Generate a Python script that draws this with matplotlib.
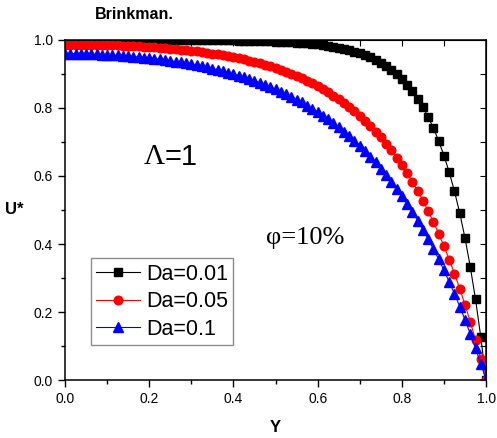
import matplotlib
matplotlib.use("Agg")
import matplotlib.pyplot as plt
from matplotlib.ticker import MultipleLocator

plt.rcParams['font.family'] = ['Liberation Sans', 'DejaVu Sans']

# Y positions of the markers (step 0.0125)
y_pos = [
    0.0, 0.0125, 0.025, 0.0375, 0.05, 0.0625, 0.075, 0.0875, 0.1, 0.1125,
    0.125, 0.1375, 0.15, 0.1625, 0.175, 0.1875, 0.2, 0.2125, 0.225, 0.2375,
    0.25, 0.2625, 0.275, 0.2875, 0.3, 0.3125, 0.325, 0.3375, 0.35, 0.3625,
    0.375, 0.3875, 0.4, 0.4125, 0.425, 0.4375, 0.45, 0.4625, 0.475, 0.4875,
    0.5, 0.5125, 0.525, 0.5375, 0.55, 0.5625, 0.575, 0.5875, 0.6, 0.6125,
    0.625, 0.6375, 0.65, 0.6625, 0.675, 0.6875, 0.7, 0.7125, 0.725, 0.7375,
    0.75, 0.7625, 0.775, 0.7875, 0.8, 0.8125, 0.825, 0.8375, 0.85, 0.8625,
    0.875, 0.8875, 0.9, 0.9125, 0.925, 0.9375, 0.95, 0.9625, 0.975, 0.9875,
    1.0,
]

u_da001 = [
    1.000, 1.000, 1.000, 1.000, 1.000, 1.000, 1.000, 1.000, 1.000, 1.000,
    1.000, 1.000, 1.000, 1.000, 1.000, 1.000, 1.000, 1.000, 1.000, 1.000,
    0.999, 0.999, 0.999, 0.999, 0.999, 0.999, 0.999, 0.999, 0.999, 0.999,
    0.999, 0.999, 0.999, 0.998, 0.998, 0.998, 0.997, 0.997, 0.997, 0.996,
    0.995, 0.995, 0.994, 0.993, 0.992, 0.991, 0.990, 0.988, 0.987, 0.985,
    0.983, 0.980, 0.977, 0.974, 0.970, 0.966, 0.961, 0.955, 0.949, 0.941,
    0.933, 0.923, 0.912, 0.899, 0.885, 0.868, 0.849, 0.827, 0.802, 0.774,
    0.741, 0.703, 0.660, 0.611, 0.555, 0.491, 0.417, 0.333, 0.237, 0.126,
    0.0,
]

u_da005 = [
    0.9865, 0.9865, 0.9864, 0.9863, 0.9861, 0.9859, 0.9856, 0.9852, 0.9848, 0.9843,
    0.9838, 0.9832, 0.9826, 0.9818, 0.9810, 0.9802, 0.9792, 0.9782, 0.9771, 0.9759,
    0.9746, 0.9732, 0.9717, 0.9700, 0.9683, 0.9664, 0.9644, 0.9623, 0.9601, 0.9576,
    0.9550, 0.9523, 0.9493, 0.9461, 0.9428, 0.9392, 0.9354, 0.9313, 0.9269, 0.9223,
    0.9174, 0.9121, 0.9065, 0.9005, 0.8942, 0.8874, 0.8802, 0.8725, 0.8643, 0.8556,
    0.8464, 0.8365, 0.8260, 0.8148, 0.8029, 0.7902, 0.7767, 0.7623, 0.7470, 0.7307,
    0.7134, 0.6949, 0.6752, 0.6543, 0.6320, 0.6083, 0.5831, 0.5562, 0.5276, 0.4971,
    0.4647, 0.4302, 0.3934, 0.3543, 0.3127, 0.2684, 0.2212, 0.1709, 0.1175, 0.0606,
    0.0,
]

u_da01 = [
    0.9595, 0.9595, 0.9593, 0.9591, 0.9588, 0.9583, 0.9578, 0.9572, 0.9564, 0.9556,
    0.9546, 0.9536, 0.9524, 0.9511, 0.9497, 0.9482, 0.9466, 0.9448, 0.9429, 0.9409,
    0.9387, 0.9364, 0.9339, 0.9313, 0.9285, 0.9256, 0.9224, 0.9191, 0.9156, 0.9119,
    0.9080, 0.9038, 0.8995, 0.8949, 0.8900, 0.8849, 0.8795, 0.8738, 0.8678, 0.8615,
    0.8549, 0.8479, 0.8406, 0.8329, 0.8248, 0.8163, 0.8073, 0.7979, 0.7880, 0.7776,
    0.7667, 0.7552, 0.7431, 0.7304, 0.7171, 0.7031, 0.6884, 0.6730, 0.6568, 0.6398,
    0.6219, 0.6031, 0.5834, 0.5626, 0.5409, 0.5180, 0.4940, 0.4688, 0.4424, 0.4146,
    0.3854, 0.3548, 0.3226, 0.2888, 0.2534, 0.2161, 0.1770, 0.1359, 0.0928, 0.0475,
    0.0,
]

fig = plt.figure(figsize=(4.97, 4.38), dpi=100)
ax = fig.add_axes([0.1308, 0.1324, 0.8472, 0.7763])

ax.plot(y_pos, u_da001, color="black", lw=0.8, marker="s", ms=5.2,
        mec="black", mfc="black", label="Da=0.01")
ax.plot(y_pos, u_da005, color="red", lw=0.8, marker="o", ms=6.2,
        mec="red", mfc="red", label="Da=0.05")
ax.plot(y_pos, u_da01, color="blue", lw=0.8, marker="^", ms=6.8,
        mec="blue", mfc="blue", label="Da=0.1")

ax.set_xlim(0, 1)
ax.set_ylim(0, 1)
ax.xaxis.set_major_locator(MultipleLocator(0.2))
ax.xaxis.set_minor_locator(MultipleLocator(0.1))
ax.yaxis.set_major_locator(MultipleLocator(0.2))
ax.yaxis.set_minor_locator(MultipleLocator(0.1))
ax.tick_params(axis="both", which="major", direction="out", length=5,
               width=1, labelsize=10)
ax.tick_params(axis="both", which="minor", direction="out", length=3, width=1)

# inward ticks on the top and right edges
top = ax.secondary_xaxis("top")
top.xaxis.set_major_locator(MultipleLocator(0.1))
top.tick_params(direction="in", length=4, labeltop=False)
right = ax.secondary_yaxis("right")
right.yaxis.set_major_locator(MultipleLocator(0.1))
right.tick_params(direction="in", length=4, labelright=False)

for s in ax.spines.values():
    s.set_linewidth(1.1)

ax.set_xlabel("Y", fontsize=12, fontweight="bold", labelpad=10)
ax.set_ylabel("U*", fontsize=12, fontweight="bold", rotation=0,
              labelpad=14, va="center")

fig.text(0.27, 0.966, "Brinkman.", fontsize=11.5, fontweight="bold",
         ha="center", va="center")

ax.text(0.186, 0.656, "\u039b", fontsize=21, family="Liberation Serif",
        transform=ax.transAxes, ha="left", va="center")
ax.text(0.237, 0.656, "=1", fontsize=21, transform=ax.transAxes,
        ha="left", va="center")
ax.text(0.478, 0.417, "\u03c6=10%", fontsize=19, family="Liberation Serif",
        transform=ax.transAxes, ha="left", va="center")

leg = ax.legend(loc="lower left", bbox_to_anchor=(0.062, 0.103), fontsize=15.5,
                fancybox=False, edgecolor="0.55", framealpha=1,
                handlelength=2.0, handletextpad=0.3, labelspacing=0.3,
                borderpad=0.25, borderaxespad=0)
leg.get_frame().set_linewidth(1.0)

fig.savefig("out.png", dpi=100)
